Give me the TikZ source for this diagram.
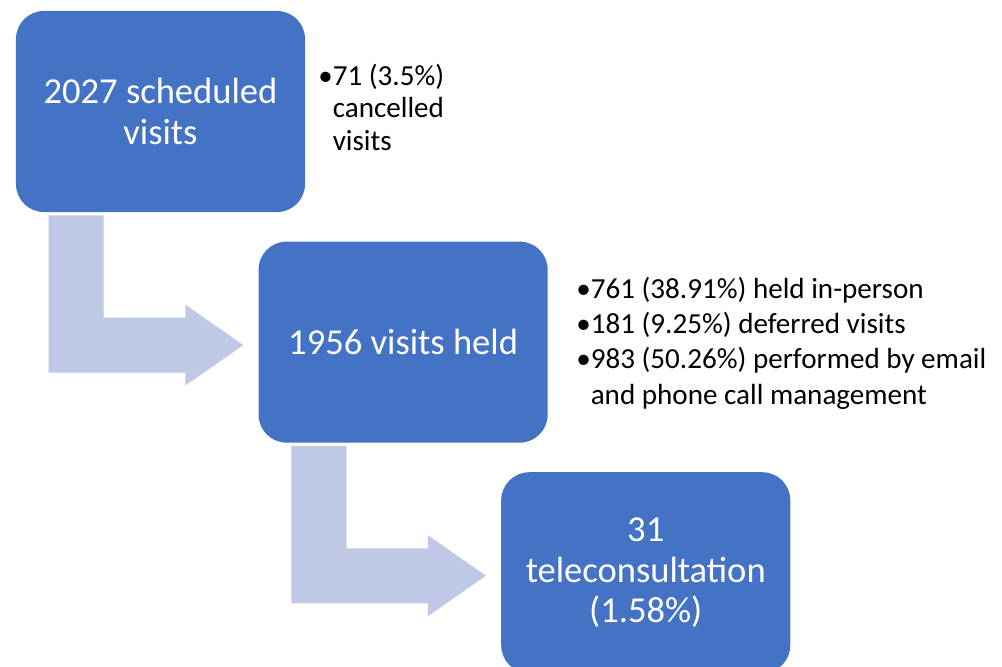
\documentclass[tikz,border=0pt]{standalone}
\usepackage{fontspec}
\setmainfont{Carlito}
\usetikzlibrary{positioning,calc}
\definecolor{stageblue}{RGB}{68,114,196}
\definecolor{flowlite}{RGB}{191,200,228}
\tikzset{
  stage/.style={
    fill=stageblue, text=white, rounded corners=0.7cm,
    align=center, inner sep=0pt, minimum width=7.225cm, minimum height=5.025cm,
    font=\fontsize{26}{29}\selectfont
  },
  note/.style={align=left, anchor=north west, inner sep=0pt, font=\fontsize{20.7}{25}\selectfont},
  bendarr/.style={fill=flowlite, draw=none}
}
\newcommand{\nbul}{•}
\newcommand{\nind}{\hphantom{•}}

\begin{document}
\begin{tikzpicture}[x=0.025cm, y=-0.025cm]
  \useasboundingbox (0,0) rectangle (1002,666);
  \node[stage] (sched) at (160.5,111.5) {2027 scheduled\\visits};
  \node[stage, below right=0.725cm and -1.175cm of sched] (held) {1956 visits held};
  \node[stage, below right=0.725cm and -1.175cm of held] (tele) {31\\teleconsultation\\(1.58\%)};
  % bent arrows between the stages
  \foreach \p/\q in {sched/held,held/tele} {
    \coordinate (tip) at ($(\q.west)+(-15,3)$);
    \coordinate (top) at ($(\p.south west)+(33,3)$);
    \fill[bendarr] (top) -- ++(55,0) |- ($(tip)+(-58,-27.5)$) -- ++(0,-13) -- (tip)
      -- ($(tip)+(-58,40.5)$) -- ++(0,-13) -| (top) -- cycle;
  }
  \node[note, font=\fontsize{20.7}{23}\selectfont] (cancel) at (318,64)
    {\nbul 71 (3.5\%)\\\nind cancelled\\\nind visits};
  \node[note] (split) at (576,277)
    {\nbul 761 (38.91\%) held in-person\\\nbul 181 (9.25\%) deferred visits\\\nbul 983 (50.26\%) performed by email\\\nind and phone call management};
\end{tikzpicture}
\end{document}
